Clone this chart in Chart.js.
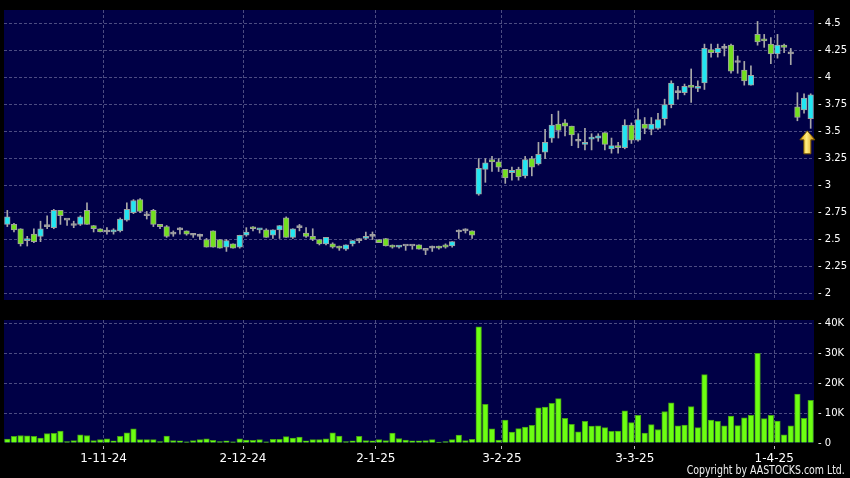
<!DOCTYPE html>
<html><head><meta charset="utf-8">
<script src="https://cdn.jsdelivr.net/npm/chart.js@4.4.1/dist/chart.umd.min.js"></script>
<style>
html,body{margin:0;padding:0;background:#000;width:850px;height:478px;overflow:hidden;}
#wrapP{position:absolute;left:0;top:0;width:850px;height:310px;}
#wrapV{position:absolute;left:0;top:310px;width:850px;height:168px;}
#copy{position:absolute;right:5px;top:463px;font:12px "DejaVu Sans Condensed","DejaVu Sans",sans-serif;line-height:14px;color:#f0f0f0;white-space:nowrap;transform:scaleX(0.87);transform-origin:right center;}
</style></head><body>
<div id="wrapP"><canvas id="price" width="850" height="310"></canvas></div>
<div id="wrapV"><canvas id="vol" width="850" height="168"></canvas></div>
<div id="copy">Copyright by AASTOCKS.com Ltd.</div>
<script>
const dates = [
"10-10-24","14-10-24","15-10-24","16-10-24","17-10-24","18-10-24","21-10-24","22-10-24","23-10-24","24-10-24","25-10-24","28-10-24","29-10-24","30-10-24","31-10-24",
"1-11-24","4-11-24","5-11-24","6-11-24","7-11-24","8-11-24","11-11-24","12-11-24","13-11-24","14-11-24","15-11-24","18-11-24","19-11-24","20-11-24","21-11-24","22-11-24","25-11-24","26-11-24","27-11-24","28-11-24","29-11-24",
"2-12-24","3-12-24","4-12-24","5-12-24","6-12-24","9-12-24","10-12-24","11-12-24","12-12-24","13-12-24","16-12-24","17-12-24","18-12-24","19-12-24","20-12-24","23-12-24","24-12-24","27-12-24","30-12-24","31-12-24",
"2-1-25","3-1-25","6-1-25","7-1-25","8-1-25","9-1-25","10-1-25","13-1-25","14-1-25","15-1-25","16-1-25","17-1-25","20-1-25","21-1-25","22-1-25","23-1-25","24-1-25","27-1-25","28-1-25",
"3-2-25","4-2-25","5-2-25","6-2-25","7-2-25","10-2-25","11-2-25","12-2-25","13-2-25","14-2-25","17-2-25","18-2-25","19-2-25","20-2-25","21-2-25","24-2-25","25-2-25","26-2-25","27-2-25","28-2-25",
"3-3-25","4-3-25","5-3-25","6-3-25","7-3-25","10-3-25","11-3-25","12-3-25","13-3-25","14-3-25","17-3-25","18-3-25","19-3-25","20-3-25","21-3-25","24-3-25","25-3-25","26-3-25","27-3-25","28-3-25","31-3-25",
"1-4-25","2-4-25","3-4-25","7-4-25","8-4-25","9-4-25"];

const axisLabels = ["1-11-24","2-12-24","2-1-25","3-2-25","3-3-25","1-4-25"];

const openP = [2.64,2.64,2.60,2.49,2.55,2.53,2.62,2.61,2.77,2.68,
2.63,2.64,2.77,2.63,2.60,2.57,2.57,2.58,2.68,2.75,
2.87,2.72,2.77,2.64,2.62,2.55,2.59,2.58,2.54,2.53,
2.50,2.58,2.50,2.43,2.46,2.43,2.54,2.61,2.59,2.59,
2.54,2.59,2.70,2.52,2.61,2.56,2.53,2.50,2.46,2.46,
2.44,2.41,2.46,2.49,2.51,2.53,2.50,2.51,2.44,2.43,
2.44,2.44,2.45,2.40,2.42,2.44,2.45,2.44,2.57,2.58,
2.58,2.92,3.15,3.24,3.22,3.15,3.12,3.15,3.09,3.25,
3.20,3.31,3.44,3.57,3.58,3.55,3.41,3.38,3.43,3.44,
3.49,3.34,3.37,3.35,3.56,3.42,3.57,3.52,3.53,3.62,
3.75,3.86,3.86,3.93,3.90,3.95,4.26,4.23,4.27,4.30,
4.14,4.07,3.93,4.40,4.36,4.31,4.22,4.30,4.22,3.73,
3.70,3.62];
const highP = [2.77,2.65,2.60,2.53,2.60,2.67,2.72,2.78,2.77,2.68,
2.67,2.72,2.84,2.63,2.60,2.61,2.60,2.70,2.84,2.87,
2.88,2.76,2.78,2.64,2.63,2.58,2.61,2.58,2.55,2.55,
2.51,2.58,2.50,2.50,2.46,2.54,2.61,2.62,2.60,2.60,
2.59,2.63,2.71,2.60,2.64,2.61,2.60,2.50,2.52,2.47,
2.44,2.45,2.49,2.51,2.57,2.57,2.50,2.51,2.45,2.44,
2.44,2.44,2.45,2.40,2.44,2.44,2.46,2.48,2.59,2.60,
2.58,3.25,3.25,3.27,3.25,3.15,3.17,3.17,3.27,3.27,
3.40,3.52,3.66,3.69,3.61,3.55,3.48,3.53,3.48,3.48,
3.49,3.44,3.40,3.61,3.58,3.71,3.63,3.63,3.67,3.80,
3.97,3.92,3.94,4.08,3.97,4.31,4.31,4.31,4.31,4.31,
4.20,4.15,4.11,4.52,4.40,4.37,4.40,4.31,4.27,3.86,
3.85,3.85];
const lowP = [2.62,2.57,2.44,2.44,2.47,2.48,2.60,2.60,2.64,2.63,
2.61,2.63,2.64,2.57,2.57,2.55,2.55,2.57,2.67,2.74,
2.75,2.69,2.62,2.60,2.52,2.53,2.55,2.54,2.52,2.50,
2.43,2.43,2.42,2.39,2.42,2.42,2.53,2.58,2.56,2.52,
2.51,2.51,2.52,2.51,2.58,2.52,2.49,2.45,2.45,2.42,
2.40,2.40,2.44,2.47,2.50,2.50,2.47,2.44,2.42,2.42,
2.40,2.41,2.41,2.36,2.39,2.41,2.42,2.43,2.51,2.56,
2.51,2.91,3.03,3.13,3.13,3.02,3.05,3.05,3.07,3.09,
3.19,3.25,3.40,3.44,3.46,3.37,3.35,3.33,3.33,3.41,
3.33,3.30,3.30,3.34,3.39,3.41,3.48,3.47,3.52,3.56,
3.72,3.80,3.84,3.77,3.87,3.89,4.19,4.19,4.20,4.04,
4.04,3.93,3.93,4.30,4.28,4.13,4.18,4.23,4.12,3.60,
3.67,3.53];
const closeP = [2.71,2.59,2.46,2.50,2.48,2.60,2.62,2.77,2.72,2.68,
2.63,2.71,2.64,2.60,2.57,2.57,2.59,2.69,2.78,2.86,
2.76,2.72,2.64,2.62,2.53,2.55,2.59,2.55,2.54,2.53,
2.43,2.43,2.42,2.49,2.42,2.54,2.57,2.60,2.60,2.52,
2.59,2.63,2.52,2.60,2.61,2.53,2.50,2.46,2.52,2.43,
2.42,2.45,2.49,2.49,2.53,2.53,2.47,2.44,2.43,2.44,
2.44,2.44,2.41,2.40,2.42,2.42,2.43,2.48,2.57,2.58,
2.54,3.16,3.21,3.22,3.17,3.07,3.14,3.08,3.24,3.17,
3.29,3.40,3.56,3.51,3.55,3.47,3.41,3.40,3.44,3.46,
3.38,3.37,3.35,3.56,3.42,3.61,3.53,3.57,3.61,3.75,
3.95,3.86,3.92,3.91,3.92,4.27,4.23,4.27,4.27,4.06,
4.14,3.97,4.02,4.33,4.34,4.22,4.30,4.28,4.22,3.63,
3.81,3.84];
const volume = [1300,2200,2500,2400,2200,1600,3100,3200,4000,500,
800,2700,2500,800,1100,1400,700,2200,3400,4700,
1100,1100,1100,500,2300,800,700,400,800,1100,
1400,900,500,700,400,1400,1000,900,1100,400,
1200,1200,2100,1600,2000,700,1100,1100,1400,3400,
2300,500,700,2200,800,700,1100,800,3300,1500,
1000,700,700,800,1100,300,500,1100,2600,800,
1200,38700,12900,4700,1000,7600,3600,4800,5300,5900,
11700,12000,13200,14800,8200,6200,3700,7200,5600,5700,
5100,3900,4000,10700,6800,9200,3300,6100,4500,10500,
13400,5700,6000,12100,5100,22800,7600,7200,5700,9000,
5800,8400,9200,29900,8100,9200,7300,2700,5700,16300,
8200,14200];

const priceTicks = [2,2.25,2.5,2.75,3,3.25,3.5,3.75,4,4.25,4.5];
const volumeTicks = [0,10000,20000,30000,40000];

const NAVY = '#000046';
const GRID = '#4c4c82';
const UP = '#22e6f2';
const DOWN = '#72e01e';
const FLAT = '#a8a8a8';
const EDGE = '#a0a0a0';
const VOL = '#6cff12';
const VOLEDGE = '#44a014';

Chart.defaults.font.family = "'DejaVu Sans', sans-serif";
Chart.defaults.color = '#ffffff';

const isMonthStart = i => axisLabels.includes(dates[i]);
const monthGrid = c => (c.tick && isMonthStart(c.index)) ? GRID : 'rgba(0,0,0,0)';
const monthTick = c => (c.tick && isMonthStart(c.index)) ? '#bbbbbb' : 'rgba(0,0,0,0)';

const panelBg = {
  id: 'panelBg',
  beforeDraw(chart) {
    const {ctx, chartArea: a} = chart;
    ctx.save(); ctx.fillStyle = NAVY;
    ctx.fillRect(a.left, a.top, a.right - a.left, a.bottom - a.top);
    ctx.restore();
  }
};

const arrowMark = {
  id: 'arrowMark',
  afterDatasetsDraw(chart) {
    const {ctx, scales: {x, y}} = chart;
    const n = dates.length;
    const cx = (x.getPixelForValue(n - 1) + x.getPixelForValue(n - 2)) / 2;
    const ty = y.getPixelForValue(lowP[n - 1]) + 2.5;
    const hw = 7.5, sw = 3.5, hh = 9, h = 23;
    ctx.save();
    const g = ctx.createLinearGradient(cx - hw, 0, cx + hw, 0);
    g.addColorStop(0, '#e8a400'); g.addColorStop(0.45, '#ffec80'); g.addColorStop(1, '#d08c00');
    ctx.beginPath();
    ctx.moveTo(cx, ty);
    ctx.lineTo(cx + hw, ty + hh); ctx.lineTo(cx + sw, ty + hh);
    ctx.lineTo(cx + sw, ty + h); ctx.lineTo(cx - sw, ty + h);
    ctx.lineTo(cx - sw, ty + hh); ctx.lineTo(cx - hw, ty + hh);
    ctx.closePath();
    ctx.fillStyle = g; ctx.fill();
    ctx.lineWidth = 1; ctx.strokeStyle = '#7a5800'; ctx.stroke();
    ctx.restore();
  }
};

const bodyColors = dates.map((d, i) => closeP[i] > openP[i] ? UP : (closeP[i] < openP[i] ? DOWN : FLAT));

new Chart(document.getElementById('price'), {
  type: 'bar',
  data: {
    labels: dates,
    datasets: [
      { label: 'range', data: dates.map((d, i) => [lowP[i], highP[i]]), backgroundColor: FLAT,
        barThickness: 1, grouped: false, order: 2 },
      { label: 'body', data: dates.map((d, i) => [openP[i], closeP[i]]), backgroundColor: bodyColors,
        borderColor: EDGE, borderWidth: 1, borderSkipped: false, barThickness: 5.6, minBarLength: 2,
        grouped: false, order: 1 }
    ]
  },
  options: {
    responsive: false, animation: false, events: [],
    layout: { padding: { left: 4, top: 6, right: 0, bottom: 5 } },
    plugins: { legend: { display: false }, tooltip: { enabled: false } },
    scales: {
      x: { type: 'category', offset: true,
        grid: { offset: true, color: monthGrid, drawTicks: false },
        border: { display: false, dash: [3, 2] },
        ticks: { display: false } },
      y: { position: 'right', min: 1.94, max: 4.626,
        afterFit: s => { s.width = 36; },
        afterBuildTicks: s => { s.ticks = priceTicks.map(v => ({ value: v })); },
        grid: { color: GRID, drawTicks: false },
        border: { display: false, dash: [3, 2] },
        ticks: { color: '#ffffff', padding: 4, font: { size: 10 }, callback: v => '- ' + v } }
    }
  },
  plugins: [panelBg, arrowMark]
});

new Chart(document.getElementById('vol'), {
  type: 'bar',
  data: {
    labels: dates,
    datasets: [{ label: 'volume', data: volume, backgroundColor: VOL, borderColor: VOLEDGE,
      borderWidth: 1, barThickness: 5.6 }]
  },
  options: {
    responsive: false, animation: false, events: [],
    layout: { padding: { left: 4, top: 8, right: 0, bottom: 13 } },
    plugins: { legend: { display: false }, tooltip: { enabled: false } },
    scales: {
      x: { type: 'category', offset: true,
        afterFit: s => { s.height = 22; },
        grid: { offset: true, color: monthGrid, tickColor: monthTick, drawTicks: true, tickLength: 6,
          tickBorderDash: [3, 3], tickBorderDashOffset: 3 },
        border: { display: false, dash: [3, 2] },
        ticks: { autoSkip: false, maxRotation: 0, minRotation: 0, labelOffset: -3.32, padding: 3,
          color: '#ffffff', font: { size: 12 },
          callback(v) { const l = this.getLabelForValue(v); return axisLabels.includes(l) ? l : ''; } } },
      y: { position: 'right', min: 0, max: 41000,
        afterFit: s => { s.width = 36; },
        afterBuildTicks: s => { s.ticks = volumeTicks.map(v => ({ value: v })); },
        grid: { color: c => (c.tick && c.tick.value === 0) ? 'rgba(0,0,0,0)' : GRID, drawTicks: false },
        border: { display: false, dash: [3, 2] },
        ticks: { color: '#ffffff', padding: 4, font: { size: 10 },
          callback: v => '- ' + (v === 0 ? '0' : (v / 1000) + 'K') } }
    }
  },
  plugins: [panelBg]
});
</script>
</body></html>
